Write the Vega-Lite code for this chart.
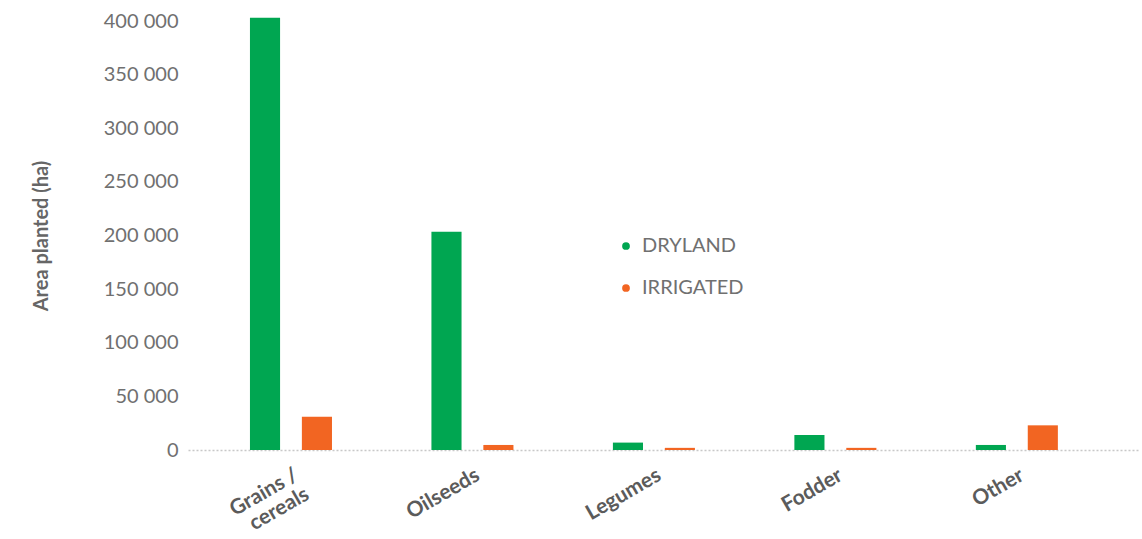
{
  "$schema": "https://vega.github.io/schema/vega-lite/v6.json",
  "autosize": {"type": "none"},
  "padding": {"left": 188, "top": 21, "right": 2, "bottom": 89},
  "width": 952,
  "height": 429,
  "background": "white",
  "config": {"view": {"stroke": null}, "font": "Lato"},
  "data": {"values": [
    {"crop": "Grains / cereals", "type": "DRYLAND", "area": 403000},
    {"crop": "Grains / cereals", "type": "IRRIGATED", "area": 31000},
    {"crop": "Oilseeds", "type": "DRYLAND", "area": 203500},
    {"crop": "Oilseeds", "type": "IRRIGATED", "area": 4700},
    {"crop": "Legumes", "type": "DRYLAND", "area": 6900},
    {"crop": "Legumes", "type": "IRRIGATED", "area": 2000},
    {"crop": "Fodder", "type": "DRYLAND", "area": 14000},
    {"crop": "Fodder", "type": "IRRIGATED", "area": 2000},
    {"crop": "Other", "type": "DRYLAND", "area": 4700},
    {"crop": "Other", "type": "IRRIGATED", "area": 23000}
  ]},
  "mark": {"type": "bar"},
  "encoding": {
    "x": {
      "field": "crop", "type": "nominal", "sort": null,
      "scale": {"paddingInner": 0.548, "paddingOuter": 0.397, "align": 0.43},
      "axis": {
        "title": null, "ticks": false, "labelAngle": -30, "labelAlign": "right", "labelBaseline": "top",
        "labelFont": "Lato", "labelFontWeight": "bold", "labelFontSize": 21, "labelColor": "#5b5b5b",
        "labelPadding": 14, "labelLineHeight": 22,
        "labelExpr": "datum.label == 'Grains / cereals' ? ['Grains /', 'cereals'] : datum.label",
        "domainColor": "#c8c8c8", "domainDash": [2, 2], "domainWidth": 1.5
      }
    },
    "xOffset": {"field": "type", "type": "nominal", "scale": {"paddingInner": 0.42, "paddingOuter": 0}},
    "y": {
      "field": "area", "type": "quantitative",
      "scale": {"domain": [0, 400000], "nice": false},
      "axis": {
        "title": "Area planted (ha)", "titleFont": "Lato", "titleFontSize": 20, "titleFontWeight": "bold",
        "titleColor": "#666666", "titlePadding": 52,
        "grid": false, "domain": false, "ticks": false, "labelOverlap": false,
        "values": [0, 50000, 100000, 150000, 200000, 250000, 300000, 350000, 400000],
        "labelExpr": "replace(format(datum.value, ','), ',', ' ')",
        "labelFont": "Lato", "labelFontSize": 20, "labelColor": "#707070", "labelPadding": 10
      }
    },
    "color": {
      "field": "type", "type": "nominal",
      "scale": {"domain": ["DRYLAND", "IRRIGATED"], "range": ["#00A651", "#F26522"]},
      "legend": {
        "title": null, "orient": "none", "legendX": 428, "legendY": 215,
        "symbolType": "circle", "symbolSize": 60, "symbolStrokeWidth": 0,
        "labelFont": "Lato", "labelFontSize": 20, "labelColor": "#707070", "labelOffset": 6,
        "rowPadding": 22
      }
    }
  }
}
